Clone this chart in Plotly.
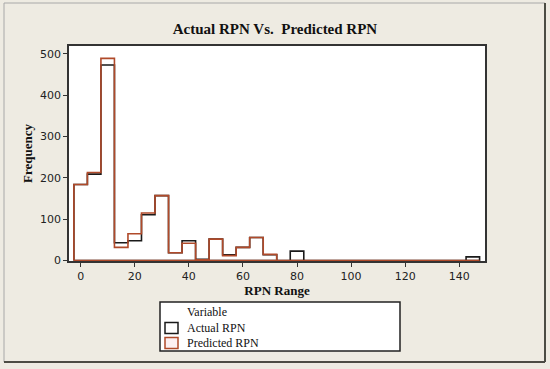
import plotly.graph_objects as go

# ---- data ----
bin_centers = [0, 5, 10, 15, 20, 25, 30, 35, 40, 45, 50, 55, 60, 65, 70,
               75, 80, 85, 90, 95, 100, 105, 110, 115, 120, 125, 130, 135, 140, 145]
actual_rpn = [184, 209, 473, 43, 48, 111, 157, 19, 48, 3, 52, 14, 32, 56, 14,
              0, 23, 0, 0, 0, 0, 0, 0, 0, 0, 0, 0, 0, 0, 9]
predicted_rpn = [184, 213, 489, 32, 65, 115, 157, 19, 42, 2, 52, 12, 32, 56, 15,
                 0, 0, 0, 0, 0, 0, 0, 0, 0, 0, 0, 0, 0, 0, 0]
bin_width = 5
x_ticks = [0, 20, 40, 60, 80, 100, 120, 140]
y_ticks = [0, 100, 200, 300, 400, 500]
series_names = ["Actual RPN", "Predicted RPN"]

BLACK = "#1a1a1a"
RED = "#b04a2a"
BEIGE = "#eeebe2"

# plot-area geometry in pixels (used to place paper-referenced decorations)
W, H = 550, 369
L, R, T, B = 69, 65, 46, 108
PW, PH = W - L - R, H - T - B


def px(x):
    return (x - L) / PW


def py(y):
    return (H - B - y) / PH


def step_path(centers, counts, w):
    lefts = [c - w / 2 for c in centers]
    xs = [lefts[0]] + lefts + [centers[-1] + w / 2, lefts[0]]
    ys = [0] + list(counts) + [0, 0]
    return xs, ys


fig = go.Figure()
for name, vals, col in [(series_names[0], actual_rpn, BLACK),
                        (series_names[1], predicted_rpn, RED)]:
    xs, ys = step_path(bin_centers, vals, bin_width)
    fig.add_trace(go.Scatter(x=xs, y=ys, mode="lines", line_shape="hv",
                             line=dict(color=col, width=1.6), name=name,
                             showlegend=False, hoverinfo="skip"))

tick_font = dict(family="DejaVu Sans", size=11, color="#222")
serif_bold = dict(family="Liberation Serif", size=13, color="#111")

fig.update_layout(
    width=W, height=H,
    margin=dict(l=L, r=R, t=T, b=B, autoexpand=False),
    paper_bgcolor=BEIGE, plot_bgcolor="white",
    title=dict(text="<b>Actual RPN Vs.  Predicted RPN</b>", x=0.5, xanchor="center",
               y=1 - 29 / H, yanchor="middle",
               font=dict(family="Liberation Serif", size=15, color="#111")),
    xaxis=dict(range=[-4.3, 149.5], tickvals=x_ticks, showgrid=False, zeroline=False,
               showline=True, linecolor="#333", linewidth=1.5, mirror=True,
               ticks="outside", ticklen=4, tickcolor="#333", tickfont=tick_font,
               automargin=False,
               title=dict(text="<b>RPN Range</b>", font=serif_bold, standoff=4)),
    yaxis=dict(range=[-1, 519], tickvals=y_ticks, showgrid=False, zeroline=False,
               showline=True, linecolor="#333", linewidth=1.5, mirror=True,
               ticks="outside", ticklen=4, tickcolor="#333", tickfont=tick_font,
               automargin=False,
               title=dict(text="<b>Frequency</b>", font=serif_bold, standoff=4)),
    showlegend=False,
)

# outer frame of the graph window
frame_l, frame_r, frame_t, frame_b = 4, 545, 3, 362
fig.add_shape(type="line", xref="paper", yref="paper", layer="above",
              x0=px(frame_l), x1=px(frame_r), y0=py(frame_t), y1=py(frame_t),
              line=dict(color="#a8a8a8", width=1))
fig.add_shape(type="line", xref="paper", yref="paper", layer="above",
              x0=px(frame_l), x1=px(frame_l), y0=py(frame_t), y1=py(frame_b),
              line=dict(color="#a8a8a8", width=1))
fig.add_shape(type="line", xref="paper", yref="paper", layer="above",
              x0=px(frame_r), x1=px(frame_r), y0=py(frame_t), y1=py(frame_b),
              line=dict(color="#4c4c44", width=2))
fig.add_shape(type="line", xref="paper", yref="paper", layer="above",
              x0=px(frame_l), x1=px(frame_r), y0=py(frame_b), y1=py(frame_b),
              line=dict(color="#4c4c44", width=2))

# legend box (drawn by hand to match the Minitab layout)
leg_font = dict(family="Liberation Serif", size=12, color="#111")
fig.add_shape(type="rect", xref="paper", yref="paper",
              x0=px(160), x1=px(400), y0=py(302), y1=py(351),
              line=dict(color="#222", width=1.5), fillcolor="white")
fig.add_annotation(xref="paper", yref="paper", x=px(185), y=py(312),
                   xanchor="left", yanchor="middle", showarrow=False,
                   text="Variable", font=leg_font)
for i, (name, col, fill) in enumerate([(series_names[0], BLACK, "white"),
                                       (series_names[1], RED, "#fdf0f2")]):
    yc = 328 + 15 * i
    fig.add_shape(type="rect", xref="paper", yref="paper",
                  x0=px(165), x1=px(178), y0=py(yc - 5.5), y1=py(yc + 5.5),
                  line=dict(color=col, width=1.5), fillcolor=fill)
    fig.add_annotation(xref="paper", yref="paper", x=px(185), y=py(yc),
                       xanchor="left", yanchor="middle", showarrow=False,
                       text=name, font=leg_font)

fig.write_html("out.html", config={"displayModeBar": False},
               post_script="document.body.style.margin='0';document.body.style.overflow='hidden';")
